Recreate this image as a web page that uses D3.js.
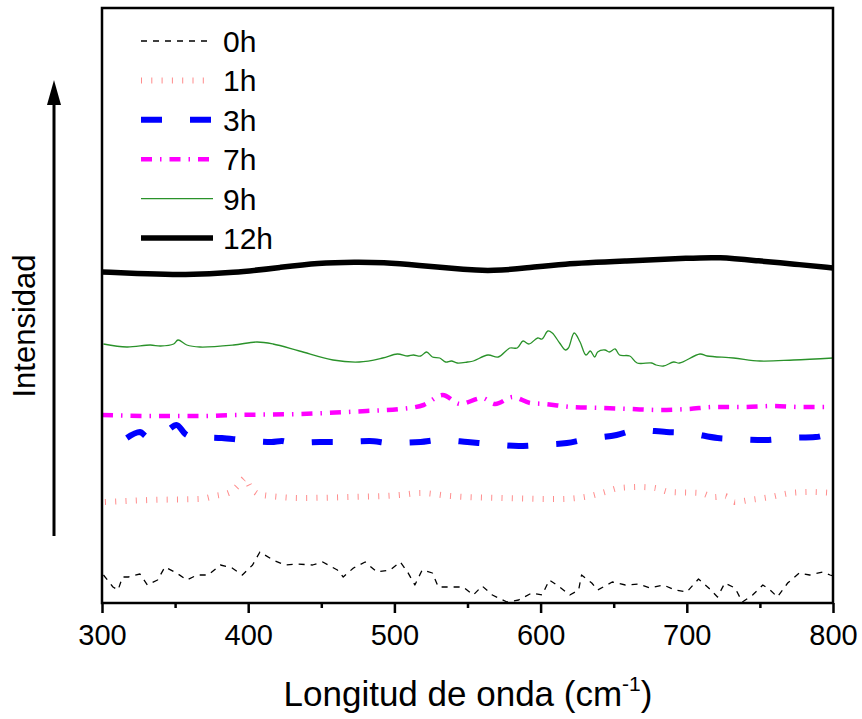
<!DOCTYPE html>
<html><head><meta charset="utf-8">
<script src="https://cdn.jsdelivr.net/npm/d3@7"></script>
<style>body{margin:0;background:#fff}</style>
</head><body>
<svg id="chart" width="862" height="719"></svg>
<script>
// ---- data (x = wavenumber cm-1, y = intensity, arbitrary units) ----
const seriesNames = ["0h","1h","3h","7h","9h","12h"];
const xTicks = [300,400,500,600,700,800];
const xMinorTicks = [350,450,550,650,750];

const wn0h = [301,307.5,311,314,318,326,331,338,343,351,358,365,372.5,381,389,396,403,408,417,425,433,444,451,461,465,472,480,488,497,504,509,514,519,526,530,538,547,554,560,567,577,585,594,601,606,613,620,626,628,635,639,649,658,667,675,684,692,700,708,715,721,726,733,738,745,752,757,762,769,777,784,793,798,800];
const int0h = [28,16,13,26,26,29,18,23,36,30,23,28,28,38,35,28,38,51,43,38,39,38,41,33,26,35,41,31,33,41,31,18,33,30,16,16,16,8,17,8,1,3,10,8,23,16,8,13,28,20,13,21,18,19,15,18,13,11,24,15,6,20,15,1,8,18,13,6,20,30,28,31,28,27];

const wn1h = [302,317,333,367,377,388,394,398,401,407,415,422,435,470,504,518,538,572,613,634,644,654,668,678,689,709,719,726,733,743,757,771,784,800];
const int1h = [101,102,103,104,107,111,119,125,117,109,107,106,105,106,108,110,107,105,104,107,111,115,116,115,111,110,106,107,101,103,106,110,111,110];

const wn3h = [317,326,331,336,345,351,357,362,382,396,416,423,430,449,463,483,497,518,531,550,565,585,598,618,632,652,666,686,701,721,734,754,769,788,800];
const int3h = [165,171,166,167,173,178,169,166,165,163,161,162,160,161,161,162,160,161,163,161,159,157,158,160,164,168,173,171,170,165,164,163,165,166,171];

const wn7h = [300,333,367,390,435,481,504,520,533,545,560,569,581,593,603,621,642,661,682,701,719,739,759,778,800];
const int7h = [188,187,187,188,189,192,194,198,208,199,205,199,206,200,199,196,195,194,193,194,196,196,197,196,196];

const wn9h = [301,317,333,340,349,352,358,367,390,406,417,435,458,476,492,502,509,513,518,522,526,531,535,539,543,550,554,564,571,579,584,588,592,598,601,605,608,613,617,619,623,627,631,634,637,639,644,647,651,654,661,666,676,679,684,691,695,709,714,732,750,773,800];
const int9h = [259,256,258,257,259,263,258,256,258,261,259,252,243,241,245,249,247,248,247,251,246,245,241,242,240,241,242,248,246,255,255,262,259,265,264,272,270,260,253,255,270,261,248,252,246,251,253,251,254,248,247,240,240,238,237,241,240,249,247,245,242,243,245];

const wn12h = [300,333,355,390,424,447,474,492,515,550,567,591,613,659,704,721,750,773,800];
const int12h = [331,329,328,330,336,340,341,340.5,338,333,332,335,339,342,345,346,342,339,335];

const xLabel = "Longitud de onda (cm";
const yLabel = "Intensidad";

// ---- layout / styles ----
const svg = d3.select("#chart");
const L = 102, R = 833, T = 8, B = 603;
const x = d3.scaleLinear().domain([300,800]).range([L,R]);
const y = d3.scaleLinear().domain([0,595]).range([B,T]);
const FONT = "Arial, 'Liberation Sans', sans-serif";

const styles = {
  "0h":  {color:"#000000", width:1.3, dash:"6,6", curve:d3.curveLinear},
  "1h":  {color:"#ff8c8c", width:6, dash:"1,9.3", curve:d3.curveMonotoneX},
  "3h":  {color:"#0000ff", width:6, dash:"21,28", curve:d3.curveMonotoneX},
  "7h":  {color:"#ff00ff", width:4.5, dash:"11,8,1.5,8", curve:d3.curveMonotoneX},
  "9h":  {color:"#2a922a", width:1.3, dash:null, curve:d3.curveCatmullRom},
  "12h": {color:"#000000", width:5.5, dash:null, curve:d3.curveBasis}
};
const data = {
  "0h": d3.zip(wn0h,int0h), "1h": d3.zip(wn1h,int1h), "3h": d3.zip(wn3h,int3h),
  "7h": d3.zip(wn7h,int7h), "9h": d3.zip(wn9h,int9h), "12h": d3.zip(wn12h,int12h)
};

svg.append("defs").append("clipPath").attr("id","clip")
  .append("rect").attr("x",L).attr("y",T).attr("width",R-L).attr("height",B-T);

const g = svg.append("g").attr("clip-path","url(#clip)");
seriesNames.forEach(s => {
  const st = styles[s];
  const line = d3.line().x(d=>x(d[0])).y(d=>y(d[1])).curve(st.curve);
  g.append("path").datum(data[s]).attr("d",line)
    .attr("fill","none").attr("stroke",st.color).attr("stroke-width",st.width)
    .attr("stroke-dasharray",st.dash).attr("stroke-linejoin","round");
});

// frame
svg.append("rect").attr("x",L).attr("y",T).attr("width",R-L).attr("height",B-T)
  .attr("fill","none").attr("stroke","#000").attr("stroke-width",2.5);

// x axis
const ax = svg.append("g").attr("transform",`translate(0,${B})`)
  .call(d3.axisBottom(x).tickValues(xTicks).tickSize(10).tickSizeOuter(0).tickPadding(11).tickFormat(d3.format("d")));
ax.select(".domain").remove();
ax.selectAll(".tick line").attr("stroke-width",2.5);
ax.selectAll("text").attr("font-family",FONT).attr("font-size",29).attr("fill","#000");
const axm = svg.append("g").attr("transform",`translate(0,${B})`)
  .call(d3.axisBottom(x).tickValues(xMinorTicks).tickSize(5).tickFormat(""));
axm.select(".domain").remove();
axm.selectAll(".tick line").attr("stroke-width",2.5);

// x title
const xt = svg.append("text").attr("x",468).attr("y",706).attr("text-anchor","middle")
  .attr("font-family",FONT).attr("font-size",35).attr("fill","#000");
xt.append("tspan").text(xLabel);
xt.append("tspan").attr("font-size",21).attr("dy",-15).text("-1");
xt.append("tspan").attr("dy",15).text(")");

// y title + arrow
svg.append("text").attr("transform","translate(35,326) rotate(-90)").attr("text-anchor","middle")
  .attr("font-family",FONT).attr("font-size",31).attr("fill","#000").text(yLabel);
svg.append("line").attr("x1",54).attr("x2",54).attr("y1",536).attr("y2",100)
  .attr("stroke","#000").attr("stroke-width",3);
svg.append("path").attr("d","M54,80 L61,105 L47,105 Z").attr("fill","#000");

// legend
const lg = svg.append("g");
seriesNames.forEach((s,i) => {
  const st = styles[s];
  const cy = 41 + i*39.4;
  lg.append("line").attr("x1",141).attr("x2",213).attr("y1",cy).attr("y2",cy)
    .attr("stroke",st.color).attr("stroke-width",st.width).attr("stroke-dasharray",st.dash);
  lg.append("text").attr("x",223).attr("y",cy+11).attr("font-family",FONT)
    .attr("font-size",30).attr("fill","#000").text(s);
});
</script>
</body></html>
